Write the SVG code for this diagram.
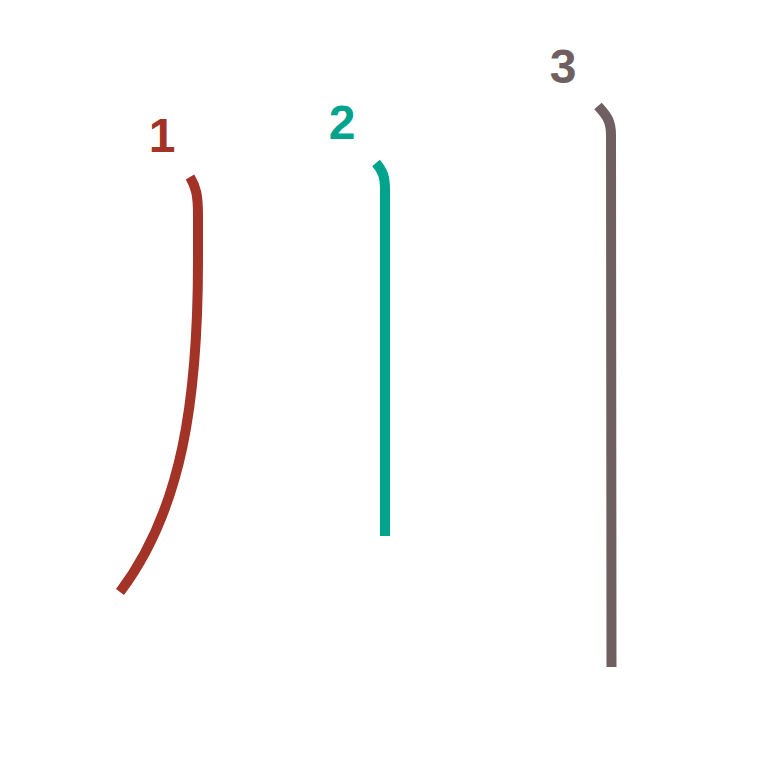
<svg xmlns="http://www.w3.org/2000/svg" width="763" height="763" viewBox="0 0 763 763">
<style>
.s{fill:none;stroke-width:10;stroke-linecap:butt;stroke-linejoin:round}
.n{font-family:"Liberation Sans",Arial,sans-serif;font-weight:bold;font-size:48px;text-anchor:middle}
</style>
<rect width="763" height="763" fill="#ffffff"/>
<g id="connectors">
<path id="stroke1" class="s" stroke="#a33327" d="M190,177 C196,187 198,195 198,215 L198,260 C198,400 182,510 120,592"/>
<path id="stroke2" class="s" stroke="#00a38b" d="M376,163 C383,171 385,177 385,190 L385,536"/>
<path id="stroke3" class="s" stroke="#705f60" d="M598,106 C606,115 611,120 611,135 L611.5,667"/>
</g>
<g id="label1"><text class="n" x="162" y="152" fill="#a33327">1</text></g>
<g id="label2"><text class="n" x="342" y="139" fill="#00a38b">2</text></g>
<g id="label3"><text class="n" x="563" y="83" fill="#705f60">3</text></g>
</svg>
